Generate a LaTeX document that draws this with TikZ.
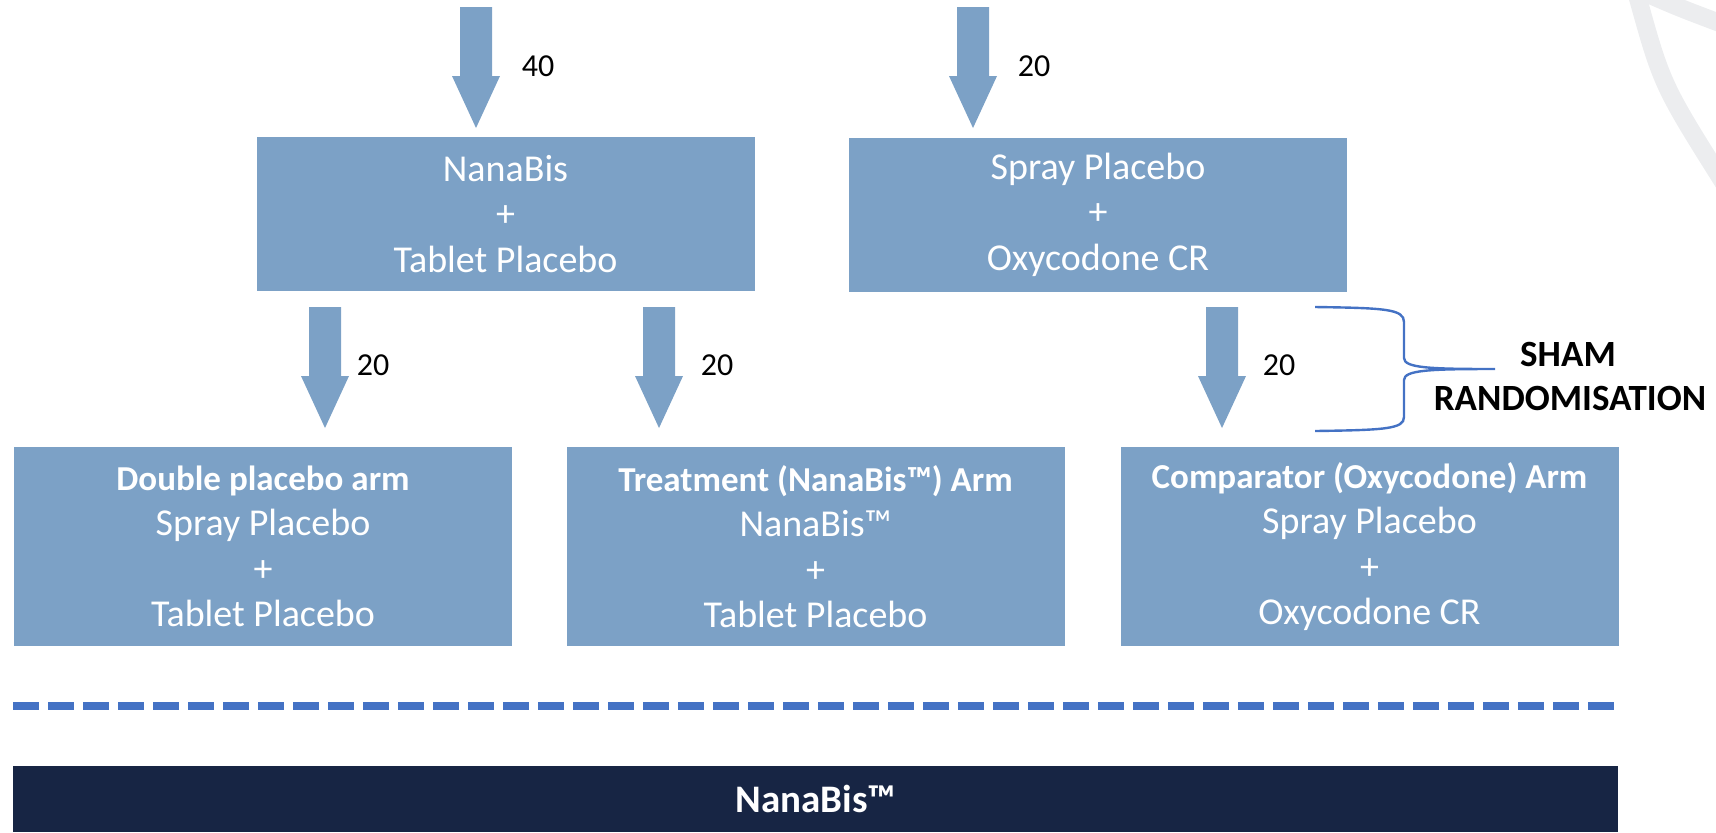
\documentclass[tikz,border=0pt]{standalone}
\usepackage{fontspec}
\setmainfont{Carlito}
\definecolor{boxblue}{RGB}{124,161,198}
\definecolor{navy}{RGB}{23,37,68}
\definecolor{dashblue}{RGB}{68,114,196}
\definecolor{arcgray}{RGB}{236,237,239}
\tikzset{
  bluebox/.style={fill=boxblue, draw=none, inner sep=0pt, align=center, text=white,
    minimum width=249pt, font=\fontsize{19}{22.75}\selectfont},
  topbox/.style={bluebox, minimum height=77pt},
  armbox/.style={bluebox, minimum height=99.5pt},
  arrowfill/.style={fill=boxblue},
  numlabel/.style={font=\fontsize{16}{19}\selectfont, text=black},
  bracestyle/.style={draw=dashblue, line width=1.2pt},
  shamtext/.style={font=\bfseries\fontsize{18.5}{22}\selectfont, text=black, anchor=base},
  dashline/.style={draw=dashblue, line width=4pt, dash pattern=on 13pt off 4.5pt},
  navybar/.style={fill=navy, draw=none, inner sep=0pt, minimum width=802.5pt, minimum height=33pt,
    text=white, font=\bfseries\fontsize{19.5}{22}\selectfont},
  arcline/.style={draw=arcgray, line width=9pt}
}
\newcommand\barrow[1]{\fill[arrowfill] (#1) -- ++(-24,-52) -- ++(8,0) -- ++(0,-69) -- ++(32,0) -- ++(0,69) -- ++(8,0) -- cycle;}
\newcommand\armtitle[1]{{\fontsize{17.5}{22.75}\selectfont\bfseries #1}}
\begin{document}
\begin{tikzpicture}[x=0.5pt,y=-0.5pt]
\useasboundingbox (0,0) rectangle (1716,832);
% background arcs
\draw[arcline] (1637,-5) .. controls (1662,85) .. (1725,185);
\draw[arcline] (1650,-5) .. controls (1680,8) .. (1725,25);
% boxes
\node[topbox] (nb) at (505.5,214) {NanaBis\\+\\Tablet Placebo};
\node[topbox] (sp) at (1098,214.5) {Spray Placebo\\+\\Oxycodone CR};
\node[armbox] (dp) at (263,546.5) {\armtitle{Double placebo arm}\\Spray Placebo\\+\\Tablet Placebo};
\node[armbox] (tr) at (815.5,546.5) {\armtitle{Treatment (NanaBis™) Arm}\\NanaBis™\\+\\Tablet Placebo};
\node[armbox] (cp) at (1369.5,546.5) {\armtitle{Comparator (Oxycodone) Arm}\\Spray Placebo\\+\\Oxycodone CR};
% arrows
\coordinate (t1) at (476,128);
\coordinate (t2) at (973,128);
\coordinate (t3) at (325,428);
\coordinate (t4) at (659,428);
\coordinate (t5) at (1222,428);
\barrow{t1}
\barrow{t2}
\barrow{t3}
\barrow{t4}
\barrow{t5}
\node[numlabel] (l1) at (538,66) {40};
\node[numlabel] (l2) at (1034,66) {20};
\node[numlabel] (l3) at (373,365) {20};
\node[numlabel] (l4) at (717,365) {20};
\node[numlabel] (l5) at (1279,365) {20};
% brace
\coordinate (btip) at (1495,369);
\draw[bracestyle] (1315,307) .. controls (1385,308) and (1404,309) .. (1404,322)
  -- (1404,358) .. controls (1404,368) and (1430,369) .. (btip)
  .. controls (1430,369) and (1404,370) .. (1404,380)
  -- (1404,417) .. controls (1404,429) and (1385,430) .. (1315,431);
\node[shamtext] (sham1) at (1568,366) {SHAM};
\node[shamtext] (sham2) at (1570,410) {RANDOMISATION};
% dashed separator
\coordinate (dl) at (13,706);
\coordinate (dr) at (1618,706);
\draw[dashline] (dl) -- (dr);
% bottom bar
\node[navybar] (bar) at (815.5,799) {NanaBis™};
\end{tikzpicture}
\end{document}
